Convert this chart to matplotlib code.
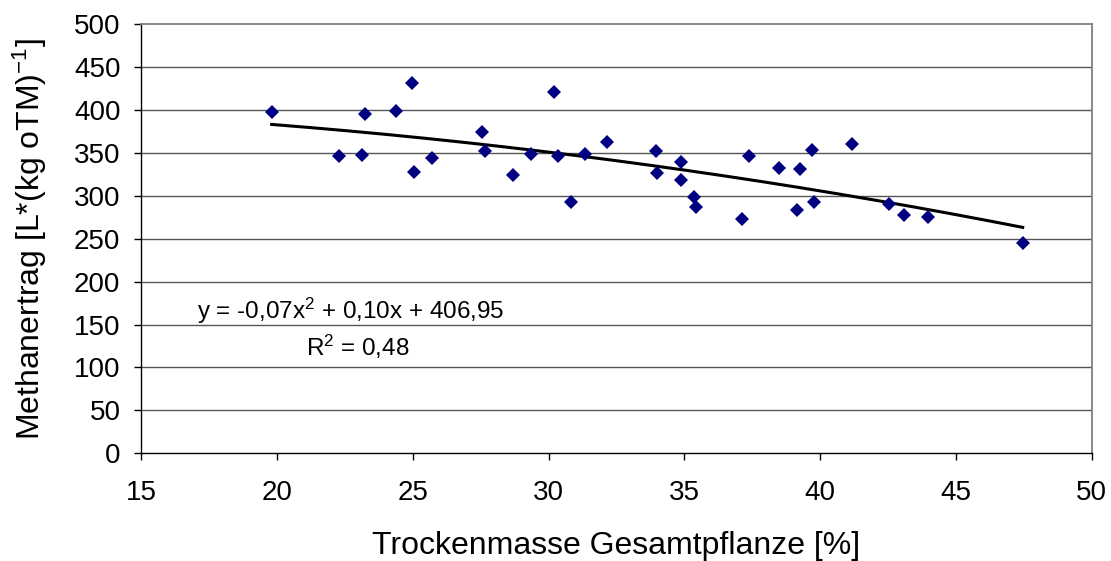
import numpy as np
import matplotlib
matplotlib.use("Agg")
import matplotlib.pyplot as plt

plt.rcParams['font.family'] = ['Liberation Sans', 'DejaVu Sans']
plt.rcParams['mathtext.default'] = 'regular'

trockenmasse = [19.80, 22.29, 23.12, 23.24, 24.38, 24.96, 25.04, 25.69, 27.56, 27.66,
                28.68, 29.35, 30.20, 30.33, 30.81, 31.34, 32.16, 33.94, 34.00, 34.87,
                34.87, 35.35, 35.43, 37.12, 37.38, 38.48, 39.15, 39.27, 39.71, 39.76,
                41.18, 42.54, 43.08, 43.98, 47.46]
methanertrag = [398, 346, 348, 396, 399, 432, 328, 344, 375, 352,
                324, 349, 421, 346, 293, 349, 363, 352, 327, 340,
                319, 299, 287, 273, 346, 332, 284, 331, 354, 293,
                361, 291, 278, 275, 245]

x_ticks = [15, 20, 25, 30, 35, 40, 45, 50]
y_ticks = list(range(0, 501, 50))

fig = plt.figure(figsize=(11.11, 5.61), dpi=100)
ax = fig.add_axes([0.1272, 0.192, 0.8554, 0.7647])

for yv in y_ticks[1:-1]:
    ax.axhline(yv, color='#555555', lw=1.0, zorder=1)

ax.plot(trockenmasse, methanertrag, linestyle='none', marker='D', markersize=7.2,
        color='#000080', markeredgewidth=0, zorder=3)

coef = np.polyfit(trockenmasse, methanertrag, 2)
xs = np.linspace(min(trockenmasse), max(trockenmasse), 200)
ax.plot(xs, np.polyval(coef, xs), color='black', lw=2.2, zorder=2)

ax.set_xlim(15, 50)
ax.set_ylim(0, 500)
ax.set_xticks(x_ticks)
ax.set_yticks(y_ticks)
ax.tick_params(axis='both', labelsize=20, direction='out', length=5, width=1, color='black')
ax.tick_params(axis='x', pad=14)
ax.tick_params(axis='y', pad=10)

for s in ['top', 'right']:
    ax.spines[s].set_color('#808080')
    ax.spines[s].set_linewidth(1.3)
for s in ['left', 'bottom']:
    ax.spines[s].set_color('black')
    ax.spines[s].set_linewidth(1.0)

ax.set_xlabel('Trockenmasse Gesamtpflanze [%]', fontsize=23, labelpad=18)
ax.set_ylabel('Methanertrag [L*(kg oTM)$^{-1}$]', fontsize=23, labelpad=18)

ax.text(0.22, 0.333, 'y = -0,07x$^{2}$ + 0,10x + 406,95', transform=ax.transAxes,
        fontsize=17.5, ha='center', va='center')
ax.text(0.228, 0.247, 'R$^{2}$ = 0,48', transform=ax.transAxes,
        fontsize=17.5, ha='center', va='center')

fig.savefig('out.png', dpi=100)
